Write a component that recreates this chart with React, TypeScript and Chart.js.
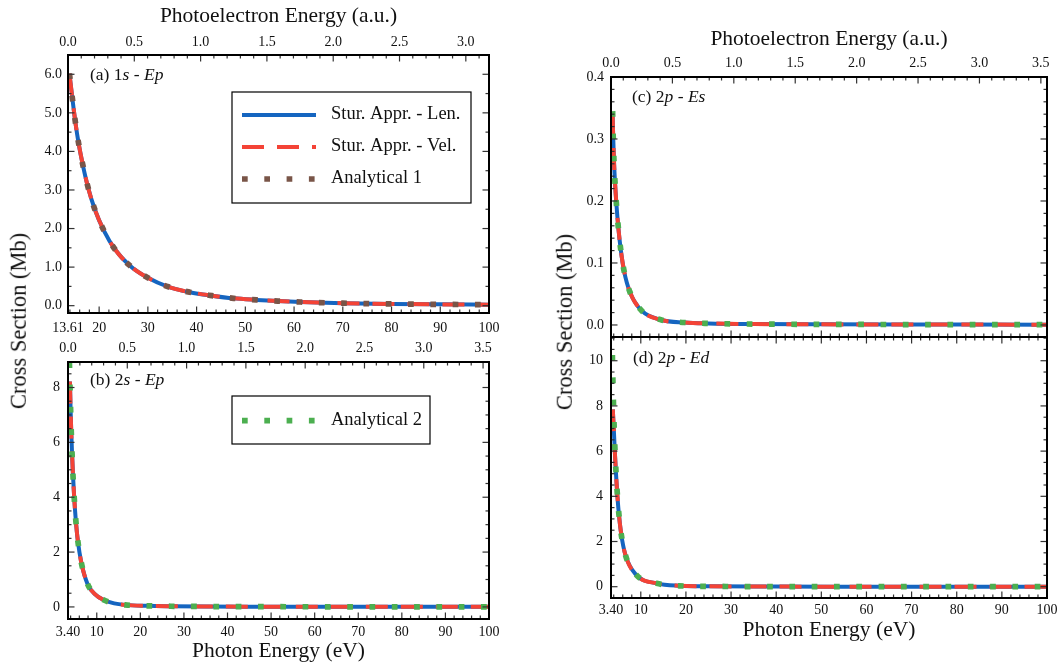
import React, { useEffect, useRef } from "react";
import { Chart, registerables } from "chart.js";

Chart.register(...registerables);

const SERIF = "'Liberation Serif', 'Times New Roman', serif";
const INK = "#111111";
const TICK_INK = "#333333";
const LEN_COLOR = "#1565c0";
const VEL_COLOR = "#f44336";
const ANA1_COLOR = "#795548";
const ANA2_COLOR = "#4caf50";

const HARTREE_EV = 27.2114;

// ---------- (a) 1s -> Ep ----------
const energyA = [13.9, 14.55, 15.11, 15.8, 16.7, 17.7, 19.1, 21.0, 23.2, 26.2, 29.9, 34.2, 38.6, 43.1, 47.6, 52.3, 56.7, 61.3, 70, 80, 90, 100];
const lenA = [6.02, 5.33, 4.77, 4.2, 3.62, 3.08, 2.5, 1.94, 1.47, 1.05, 0.73, 0.49, 0.35, 0.26, 0.19, 0.15, 0.12, 0.095, 0.065, 0.045, 0.034, 0.026];
const velA = [6.02, 5.33, 4.77, 4.2, 3.62, 3.08, 2.5, 1.94, 1.47, 1.05, 0.73, 0.49, 0.35, 0.26, 0.19, 0.15, 0.12, 0.095, 0.065, 0.045, 0.034, 0.026];
const ana1A = [6.02, 5.33, 4.77, 4.2, 3.62, 3.08, 2.5, 1.94, 1.47, 1.05, 0.73, 0.49, 0.35, 0.26, 0.19, 0.15, 0.12, 0.095, 0.065, 0.045, 0.034, 0.026];

// ---------- (b) 2s -> Ep ----------
const energyB = [3.72, 3.84, 3.98, 4.13, 4.31, 4.53, 4.8, 5.15, 5.65, 6.45, 7.9, 9.5, 11.5, 14, 16.5, 21.5, 27, 35, 45, 60, 80, 100];
const lenB = [null, 8.22, 7.3, 6.47, 5.66, 4.85, 4.05, 3.24, 2.42, 1.62, 0.83, 0.48, 0.26, 0.13, 0.075, 0.04, 0.025, 0.015, 0.01, 0.006, 0.004, 0.003];
const velB = [null, 8.22, 7.3, 6.47, 5.66, 4.85, 4.05, 3.24, 2.42, 1.62, 0.83, 0.48, 0.26, 0.13, 0.075, 0.04, 0.025, 0.015, 0.01, 0.006, 0.004, 0.003];
const ana2B = [8.92, 8.14, 7.31, 6.48, 5.67, 4.85, 4.05, 3.24, 2.42, 1.62, 0.83, 0.48, 0.26, 0.13, 0.075, 0.04, 0.025, 0.015, 0.01, 0.006, 0.004, 0.003];

// ---------- (c) 2p -> Es ----------
const energyC = [3.75, 3.9, 4.05, 4.28, 4.6, 5.0, 5.55, 6.3, 7.6, 10.2, 14.6, 19.7, 25, 35, 50, 70, 100];
const lenC = [0.342, 0.3, 0.266, 0.231, 0.195, 0.159, 0.122, 0.087, 0.053, 0.023, 0.008, 0.004, 0.0025, 0.0015, 0.001, 0.0007, 0.0005];
const velC = [0.342, 0.3, 0.266, 0.231, 0.195, 0.159, 0.122, 0.087, 0.053, 0.023, 0.008, 0.004, 0.0025, 0.0015, 0.001, 0.0007, 0.0005];
const ana2C = [0.345, 0.3, 0.266, 0.231, 0.195, 0.159, 0.122, 0.087, 0.053, 0.023, 0.008, 0.004, 0.0025, 0.0015, 0.001, 0.0007, 0.0005];

// ---------- (d) 2p -> Ed ----------
const energyD = [3.7, 3.8, 3.92, 4.06, 4.23, 4.45, 4.72, 5.08, 5.62, 6.6, 9.0, 13.5, 18.5, 25, 40, 60, 100];
const lenD = [null, 7.85, 7.35, 6.8, 6.05, 5.2, 4.3, 3.36, 2.39, 1.4, 0.52, 0.15, 0.04, 0.015, 0.005, 0.002, 0.001];
const velD = [null, 7.85, 7.35, 6.8, 6.05, 5.2, 4.3, 3.36, 2.39, 1.4, 0.52, 0.15, 0.04, 0.015, 0.005, 0.002, 0.001];
const ana2D = [10.25, 9.27, 8.29, 7.3, 6.3, 5.31, 4.35, 3.36, 2.39, 1.4, 0.52, 0.15, 0.04, 0.015, 0.005, 0.002, 0.001];

// ---------- tick values and labels ----------
const eVTicks1s = [13.61, 20, 30, 40, 50, 60, 70, 80, 90, 100];
const eVLabels1s = ["13.61", "20", "30", "40", "50", "60", "70", "80", "90", "100"];
const eVTicks2 = [3.4, 10, 20, 30, 40, 50, 60, 70, 80, 90, 100];
const eVLabels2 = ["3.40", "10", "20", "30", "40", "50", "60", "70", "80", "90", "100"];
const auTicks1s = [0, 0.5, 1, 1.5, 2, 2.5, 3];
const auLabels1s = ["0.0", "0.5", "1.0", "1.5", "2.0", "2.5", "3.0"];
const auTicks2 = [0, 0.5, 1, 1.5, 2, 2.5, 3, 3.5];
const auLabels2 = ["0.0", "0.5", "1.0", "1.5", "2.0", "2.5", "3.0", "3.5"];
const yTicksA = [0, 1, 2, 3, 4, 5, 6];
const yLabelsA = ["0.0", "1.0", "2.0", "3.0", "4.0", "5.0", "6.0"];
const yTicksB = [0, 2, 4, 6, 8];
const yLabelsB = ["0", "2", "4", "6", "8"];
const yTicksC = [0, 0.1, 0.2, 0.3, 0.4];
const yLabelsC = ["0.0", "0.1", "0.2", "0.3", "0.4"];
const yTicksD = [0, 2, 4, 6, 8, 10];
const yLabelsD = ["0", "2", "4", "6", "8", "10"];

type Series = {
  label: string;
  energy: number[];
  values: (number | null)[];
  color: string;
  width: number;
  dash: number[];
};

type Part = { text: string; italic?: boolean };

type LegendRow = { label: string; color: string; width: number; dash: number[]; y: number };

type PanelDef = {
  id: string;
  left: number;
  top: number;
  width: number;
  height: number;
  plot: { l: number; t: number; r: number; b: number };
  xMin: number;
  xMax: number;
  yMin: number;
  yMax: number;
  xTicks: number[];
  xLabels: string[];
  xMinorStep: number;
  showXLabels: boolean;
  xLabelPad: number;
  xTitle?: string;
  xTitlePad?: number;
  auMax?: number;
  auTicks?: number[];
  auLabels?: string[];
  auLabelPad?: number;
  topTitle?: string;
  topTitlePad?: number;
  yTicks: number[];
  yLabels: string[];
  yMinorStep: number;
  yLabelPad: number;
  series: Series[];
  tag: Part[];
  tagX: number;
  tagY: number;
  legend?: { box: [number, number, number, number]; lineX0: number; lineX1: number; textX: number; rows: LegendRow[] };
};

const lenStyle = { color: LEN_COLOR, width: 4, dash: [] as number[] };
const velStyle = { color: VEL_COLOR, width: 4, dash: [22, 13] };
const ana1Style = { color: ANA1_COLOR, width: 5.7, dash: [5.7, 16.6] };
const ana2Style = { color: ANA2_COLOR, width: 5.7, dash: [5.7, 16.6] };

function minorTicks(lo: number, hi: number, step: number, majors: number[]): number[] {
  const out: number[] = [];
  const k0 = Math.ceil(lo / step - 1e-9);
  for (let k = k0; k * step <= hi + 1e-9; k++) {
    const v = +(k * step).toFixed(6);
    if (!majors.some((m) => Math.abs(m - v) < 1e-6)) out.push(v);
  }
  return out;
}

const panels: PanelDef[] = [
  {
    id: "a",
    left: 0,
    top: 0,
    width: 520,
    height: 345,
    plot: { l: 68, t: 55, r: 489, b: 313 },
    xMin: 13.61,
    xMax: 100,
    yMin: -0.19,
    yMax: 6.5,
    xTicks: eVTicks1s,
    xLabels: eVLabels1s,
    xMinorStep: 2,
    showXLabels: true,
    xLabelPad: 6.6,
    auMax: (100 - 13.61) / HARTREE_EV,
    auTicks: auTicks1s,
    auLabels: auLabels1s,
    auLabelPad: 3.9,
    topTitle: "Photoelectron Energy (a.u.)",
    topTitlePad: 3.3,
    yTicks: yTicksA,
    yLabels: yLabelsA,
    yMinorStep: 0.5,
    yLabelPad: 6,
    series: [
      { label: "Analytical 1", energy: energyA, values: ana1A, ...ana1Style },
      { label: "Stur. Appr. - Vel.", energy: energyA, values: velA, ...velStyle },
      { label: "Stur. Appr. - Len.", energy: energyA, values: lenA, ...lenStyle },
    ],
    tag: [{ text: "(a) 1" }, { text: "s", italic: true }, { text: " - " }, { text: "Ep", italic: true }],
    tagX: 90,
    tagY: 79.5,
    legend: {
      box: [232, 92, 471, 203],
      lineX0: 242,
      lineX1: 316,
      textX: 331,
      rows: [
        { label: "Stur. Appr. - Len.", y: 115, ...lenStyle },
        { label: "Stur. Appr. - Vel.", y: 147, ...velStyle },
        { label: "Analytical 1", y: 179, ...ana1Style },
      ],
    },
  },
  {
    id: "b",
    left: 0,
    top: 330,
    width: 520,
    height: 337,
    plot: { l: 68, t: 32, r: 489, b: 289 },
    xMin: 3.4,
    xMax: 100,
    yMin: -0.44,
    yMax: 8.93,
    xTicks: eVTicks2,
    xLabels: eVLabels2,
    xMinorStep: 2,
    showXLabels: true,
    xLabelPad: 4.6,
    xTitle: "Photon Energy (eV)",
    xTitlePad: 2.4,
    auMax: (100 - 3.4) / HARTREE_EV,
    auTicks: auTicks2,
    auLabels: auLabels2,
    auLabelPad: 5.6,
    yTicks: yTicksB,
    yLabels: yLabelsB,
    yMinorStep: 0.5,
    yLabelPad: 8,
    series: [
      { label: "Analytical 2", energy: energyB, values: ana2B, ...ana2Style },
      { label: "Stur. Appr. - Vel.", energy: energyB, values: velB, ...velStyle },
      { label: "Stur. Appr. - Len.", energy: energyB, values: lenB, ...lenStyle },
    ],
    tag: [{ text: "(b) 2" }, { text: "s", italic: true }, { text: " - " }, { text: "Ep", italic: true }],
    tagX: 90,
    tagY: 54.5,
    legend: {
      box: [232, 66, 430, 114],
      lineX0: 242,
      lineX1: 316,
      textX: 331,
      rows: [{ label: "Analytical 2", y: 90.7, ...ana2Style }],
    },
  },
  {
    id: "c",
    left: 530,
    top: 0,
    width: 527,
    height: 350,
    plot: { l: 81, t: 77, r: 517, b: 337 },
    xMin: 3.4,
    xMax: 100,
    yMin: -0.0194,
    yMax: 0.4,
    xTicks: eVTicks2,
    xLabels: eVLabels2,
    xMinorStep: 2,
    showXLabels: false,
    xLabelPad: 4,
    auMax: (100 - 3.4) / HARTREE_EV,
    auTicks: auTicks2,
    auLabels: auLabels2,
    auLabelPad: 5.3,
    topTitle: "Photoelectron Energy (a.u.)",
    topTitlePad: 26.3,
    yTicks: yTicksC,
    yLabels: yLabelsC,
    yMinorStep: 0.02,
    yLabelPad: 7,
    series: [
      { label: "Analytical 2", energy: energyC, values: ana2C, ...ana2Style },
      { label: "Stur. Appr. - Vel.", energy: energyC, values: velC, ...velStyle },
      { label: "Stur. Appr. - Len.", energy: energyC, values: lenC, ...lenStyle },
    ],
    tag: [{ text: "(c) 2" }, { text: "p", italic: true }, { text: " - " }, { text: "Es", italic: true }],
    tagX: 102,
    tagY: 101.5,
  },
  {
    id: "d",
    left: 530,
    top: 320,
    width: 527,
    height: 347,
    plot: { l: 81, t: 17, r: 517, b: 278 },
    xMin: 3.4,
    xMax: 100,
    yMin: -0.5,
    yMax: 11.05,
    xTicks: eVTicks2,
    xLabels: eVLabels2,
    xMinorStep: 2,
    showXLabels: true,
    xLabelPad: 3.6,
    xTitle: "Photon Energy (eV)",
    xTitlePad: 23.4,
    yTicks: yTicksD,
    yLabels: yLabelsD,
    yMinorStep: 0.5,
    yLabelPad: 8,
    series: [
      { label: "Analytical 2", energy: energyD, values: ana2D, ...ana2Style },
      { label: "Stur. Appr. - Vel.", energy: energyD, values: velD, ...velStyle },
      { label: "Stur. Appr. - Len.", energy: energyD, values: lenD, ...lenStyle },
    ],
    tag: [{ text: "(d) 2" }, { text: "p", italic: true }, { text: " - " }, { text: "Ed", italic: true }],
    tagX: 103,
    tagY: 43,
  },
];

const tickFont = { family: SERIF, size: 14, lineHeight: 1.2 };
const titleFont = { family: SERIF, size: 21.5, lineHeight: 1.2 };

// Inward ticks on all four sides, the frame, the panel tag and the legend box.
function framePlugin(def: PanelDef) {
  return {
    id: "frame_" + def.id,
    afterDatasetsDraw(chart: any) {
      const { ctx, chartArea: a } = chart;
      const xs = chart.scales.x;
      const ys = chart.scales.y;
      const MAJ = 6.5;
      const MIN = 3.5;
      ctx.save();
      ctx.strokeStyle = TICK_INK;
      ctx.lineWidth = 1.2;
      ctx.lineCap = "butt";
      ctx.setLineDash([]);
      const seg = (x1: number, y1: number, x2: number, y2: number) => {
        ctx.beginPath();
        ctx.moveTo(x1, y1);
        ctx.lineTo(x2, y2);
        ctx.stroke();
      };
      const eMinor = minorTicks(def.xMin, def.xMax, def.xMinorStep, def.xTicks);
      for (const v of def.xTicks) {
        const px = xs.getPixelForValue(v);
        seg(px, a.bottom, px, a.bottom - MAJ);
      }
      for (const v of eMinor) {
        const px = xs.getPixelForValue(v);
        seg(px, a.bottom, px, a.bottom - MIN);
      }
      if (def.auMax && def.auTicks) {
        const s2 = chart.scales.x2;
        for (const v of def.auTicks) {
          const px = s2.getPixelForValue(v);
          seg(px, a.top, px, a.top + MAJ);
        }
        for (const v of minorTicks(0, def.auMax, 0.1, def.auTicks)) {
          const px = s2.getPixelForValue(v);
          seg(px, a.top, px, a.top + MIN);
        }
      } else {
        for (const v of def.xTicks) {
          const px = xs.getPixelForValue(v);
          seg(px, a.top, px, a.top + MAJ);
        }
        for (const v of eMinor) {
          const px = xs.getPixelForValue(v);
          seg(px, a.top, px, a.top + MIN);
        }
      }
      const yMinor = minorTicks(def.yMin, def.yMax, def.yMinorStep, def.yTicks);
      for (const v of def.yTicks) {
        const py = ys.getPixelForValue(v);
        seg(a.left, py, a.left + MAJ, py);
        seg(a.right, py, a.right - MAJ, py);
      }
      for (const v of yMinor) {
        const py = ys.getPixelForValue(v);
        seg(a.left, py, a.left + MIN, py);
        seg(a.right, py, a.right - MIN, py);
      }
      ctx.strokeStyle = "#000";
      ctx.lineWidth = 2;
      ctx.strokeRect(a.left, a.top, a.right - a.left, a.bottom - a.top);
      ctx.restore();
    },
    afterDraw(chart: any) {
      const { ctx } = chart;
      ctx.save();
      // panel tag, e.g. "(a) 1s - Ep"
      ctx.fillStyle = INK;
      ctx.textBaseline = "alphabetic";
      ctx.textAlign = "left";
      let x = def.tagX;
      for (const part of def.tag) {
        ctx.font = `${part.italic ? "italic " : ""}17.5px ${SERIF}`;
        ctx.fillText(part.text, x, def.tagY);
        x += ctx.measureText(part.text).width;
      }
      const lg = def.legend;
      if (lg) {
        const [x0, y0, x1, y1] = lg.box;
        ctx.fillStyle = "#ffffff";
        ctx.fillRect(x0, y0, x1 - x0, y1 - y0);
        ctx.strokeStyle = "#000";
        ctx.lineWidth = 1.2;
        ctx.setLineDash([]);
        ctx.strokeRect(x0, y0, x1 - x0, y1 - y0);
        for (const row of lg.rows) {
          ctx.save();
          ctx.strokeStyle = row.color;
          ctx.lineWidth = row.width;
          ctx.lineCap = "butt";
          ctx.setLineDash(row.dash);
          ctx.beginPath();
          ctx.moveTo(lg.lineX0, row.y);
          ctx.lineTo(lg.lineX1, row.y);
          ctx.stroke();
          ctx.restore();
          ctx.fillStyle = INK;
          ctx.font = `18.5px ${SERIF}`;
          ctx.textBaseline = "alphabetic";
          ctx.fillText(row.label, lg.textX, row.y + 4);
        }
      }
      ctx.restore();
    },
  };
}

function buildConfig(def: PanelDef): any {
  const { plot, width, height } = def;
  const scales: any = {
    x: {
      type: "linear",
      position: "bottom",
      min: def.xMin,
      max: def.xMax,
      bounds: "data",
      afterBuildTicks: (s: any) => {
        s.ticks = def.xTicks.map((v) => ({ value: v }));
      },
      afterFit: (s: any) => {
        s.height = height - plot.b;
        s.paddingLeft = 0;
        s.paddingRight = 0;
      },
      grid: { display: false, drawTicks: false },
      border: { display: false },
      ticks: {
        display: def.showXLabels,
        autoSkip: false,
        maxRotation: 0,
        minRotation: 0,
        padding: def.xLabelPad,
        color: INK,
        font: tickFont,
        callback: (_v: number, i: number) => def.xLabels[i],
      },
      title: def.xTitle
        ? { display: true, text: def.xTitle, color: INK, font: titleFont, padding: { top: 0, bottom: def.xTitlePad } }
        : { display: false },
    },
    y: {
      type: "linear",
      position: "left",
      min: def.yMin,
      max: def.yMax,
      bounds: "data",
      afterBuildTicks: (s: any) => {
        s.ticks = def.yTicks.map((v) => ({ value: v }));
      },
      afterFit: (s: any) => {
        s.width = plot.l;
        s.paddingTop = 0;
        s.paddingBottom = 0;
      },
      grid: { display: false, drawTicks: false },
      border: { display: false },
      ticks: {
        autoSkip: false,
        padding: def.yLabelPad,
        color: INK,
        font: tickFont,
        callback: (_v: number, i: number) => def.yLabels[i],
      },
    },
  };
  if (def.auMax && def.auTicks && def.auLabels) {
    const auTicks = def.auTicks;
    const auLabels = def.auLabels;
    scales.x2 = {
      type: "linear",
      position: "top",
      min: 0,
      max: def.auMax,
      bounds: "data",
      afterBuildTicks: (s: any) => {
        s.ticks = auTicks.map((v) => ({ value: v }));
      },
      afterFit: (s: any) => {
        s.height = plot.t;
        s.paddingLeft = 0;
        s.paddingRight = 0;
      },
      grid: { display: false, drawTicks: false },
      border: { display: false },
      ticks: {
        autoSkip: false,
        maxRotation: 0,
        minRotation: 0,
        padding: def.auLabelPad,
        color: INK,
        font: tickFont,
        callback: (_v: number, i: number) => auLabels[i],
      },
      title: def.topTitle
        ? { display: true, text: def.topTitle, color: INK, font: titleFont, padding: { top: def.topTitlePad, bottom: 0 } }
        : { display: false },
    };
  }
  return {
    type: "line",
    data: {
      datasets: def.series.map((s) => ({
        label: s.label,
        data: s.energy.map((e, i) => ({ x: e, y: s.values[i] })),
        borderColor: s.color,
        backgroundColor: s.color,
        borderWidth: s.width,
        borderDash: s.dash,
        borderCapStyle: "butt",
        borderJoinStyle: "round",
        pointRadius: 0,
        pointHoverRadius: 0,
        fill: false,
        cubicInterpolationMode: "monotone",
        spanGaps: false,
        clip: 0,
        xAxisID: "x",
        yAxisID: "y",
      })),
    },
    options: {
      animation: false,
      responsive: false,
      maintainAspectRatio: false,
      events: [],
      layout: {
        padding: { left: 0, right: width - plot.r, top: def.auMax ? 0 : plot.t, bottom: 0 },
      },
      plugins: { legend: { display: false }, tooltip: { enabled: false }, title: { display: false } },
      scales,
    },
    plugins: [framePlugin(def)],
  };
}

function Panel({ def }: { def: PanelDef }) {
  const ref = useRef<HTMLCanvasElement | null>(null);
  useEffect(() => {
    if (!ref.current) return;
    const chart = new Chart(ref.current, buildConfig(def));
    return () => chart.destroy();
  }, [def]);
  return (
    <canvas
      ref={ref}
      width={def.width}
      height={def.height}
      style={{ position: "absolute", left: def.left, top: def.top, width: def.width, height: def.height }}
    />
  );
}

const yTitleStyle = (cx: number, cy: number): React.CSSProperties => ({
  position: "absolute",
  left: cx,
  top: cy,
  transform: "translate(-50%, -50%) rotate(-90deg)",
  whiteSpace: "nowrap",
  fontFamily: SERIF,
  fontSize: 22.5,
  lineHeight: 1,
  color: INK,
});

export default function App() {
  return (
    <div
      style={{
        position: "absolute",
        left: 0,
        top: 0,
        width: 1057,
        height: 667,
        overflow: "hidden",
        background: "#ffffff",
      }}
    >
      {panels.map((p) => (
        <Panel key={p.id} def={p} />
      ))}
      <div style={yTitleStyle(18.5, 321)}>Cross Section (Mb)</div>
      <div style={yTitleStyle(565, 321.5)}>Cross Section (Mb)</div>
    </div>
  );
}
